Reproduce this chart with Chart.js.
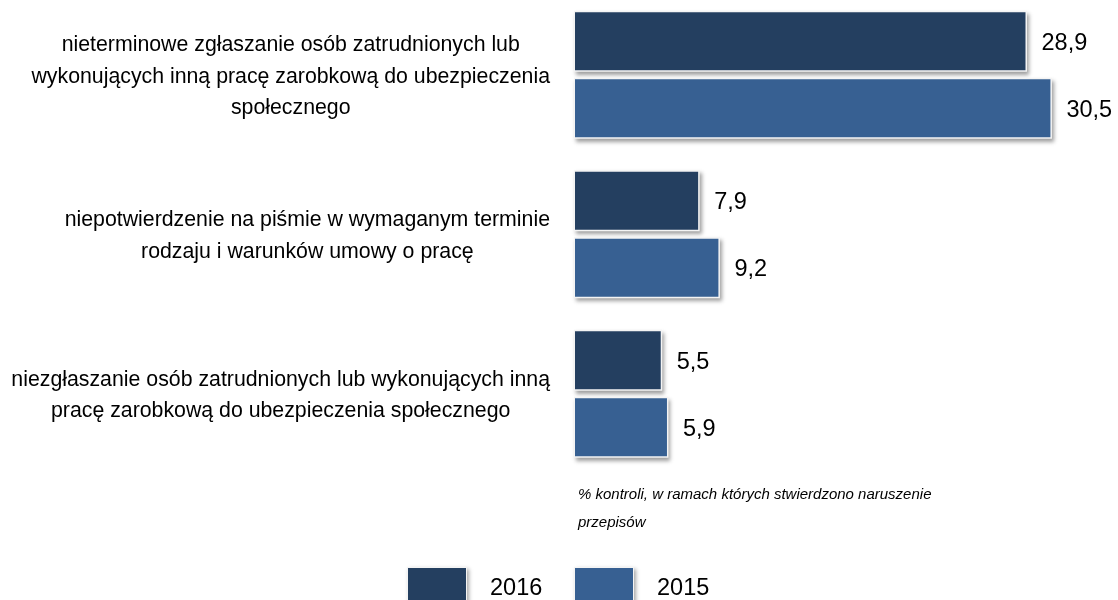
<!DOCTYPE html>
<html>
<head>
<meta charset="utf-8">
<script src="https://cdn.jsdelivr.net/npm/chart.js@4.4.1/dist/chart.umd.min.js"></script>
<style>
  html, body { margin: 0; padding: 0; background: #fff; overflow: hidden; }
  .wrap { width: 1118px; height: 610px; margin-top: -5px; position: relative; }
</style>
</head>
<body>
<div class="wrap"><canvas id="chart"></canvas></div>
<script>
// categories (each entry = wrapped lines of the label)
const categories = [
  ['nieterminowe zgłaszanie osób zatrudnionych lub', 'wykonujących inną pracę zarobkową do ubezpieczenia', 'społecznego'],
  ['niepotwierdzenie na piśmie w wymaganym terminie', 'rodzaju i warunków umowy o pracę'],
  ['niezgłaszanie osób zatrudnionych lub wykonujących inną', 'pracę zarobkową do ubezpieczenia społecznego']
];
const years = ['2016', '2015'];
const values2016 = [28.9, 7.9, 5.5];
const values2015 = [30.5, 9.2, 5.9];
const note = ['% kontroli, w ramach których stwierdzono naruszenie', 'przepisów'];

const COLORS = ['#243f60', '#376092'];
const FONT = '"Liberation Sans", Arial, Helvetica, sans-serif';

// white outline + soft shadow behind each bar
const barShadow = {
  id: 'barShadow',
  beforeDatasetsDraw(chart) {
    const ctx = chart.ctx;
    ctx.save();
    ctx.shadowColor = 'rgba(0,0,0,0.38)';
    ctx.shadowBlur = 4;
    ctx.shadowOffsetX = 2;
    ctx.shadowOffsetY = 3;
    ctx.fillStyle = '#f4f4f4';
    chart.data.datasets.forEach((ds, i) => {
      chart.getDatasetMeta(i).data.forEach(bar => {
        const p = bar.getProps(['x', 'y', 'base', 'height'], true);
        ctx.fillRect(p.base - 1, p.y - p.height / 2 - 1.5, p.x - p.base + 2.5, p.height + 3);
      });
    });
    ctx.restore();
  }
};

// category labels, value labels, note and legend
const textLayer = {
  id: 'textLayer',
  afterDraw(chart) {
    const ctx = chart.ctx;
    const y = chart.scales.y;
    ctx.save();
    ctx.fillStyle = '#000';
    ctx.textBaseline = 'middle';

    // category labels: block right-aligned, lines centered
    ctx.font = '21.3px ' + FONT;
    const right = 550;
    const lineH = 31.5;
    categories.forEach((lines, i) => {
      const cy = y.getPixelForValue(i) + 2;
      const widest = Math.max(...lines.map(l => ctx.measureText(l).width));
      const cx = right - widest / 2;
      ctx.textAlign = 'center';
      lines.forEach((l, k) => {
        ctx.fillText(l, cx, cy + (k - (lines.length - 1) / 2) * lineH);
      });
    });

    // value labels
    ctx.font = '23.5px ' + FONT;
    ctx.textAlign = 'left';
    chart.data.datasets.forEach((ds, i) => {
      chart.getDatasetMeta(i).data.forEach((bar, j) => {
        const txt = ds.data[j].toFixed(1).replace('.', ',');
        ctx.fillText(txt, bar.x + 16, bar.y + 2);
      });
    });

    // note under the bars
    ctx.font = 'italic 15px ' + FONT;
    ctx.fillText(note[0], 578, 500);
    ctx.fillText(note[1], 578, 528);

    // legend
    const legendX = [408, 575];
    ctx.font = '23.5px ' + FONT;
    years.forEach((yr, i) => {
      const bx = legendX[i];
      ctx.save();
      ctx.shadowColor = 'rgba(0,0,0,0.35)';
      ctx.shadowBlur = 4;
      ctx.shadowOffsetX = 2;
      ctx.shadowOffsetY = 2;
      ctx.fillStyle = '#f4f4f4';
      ctx.fillRect(bx - 1, 572, 60, 42);
      ctx.restore();
      ctx.fillStyle = COLORS[i];
      ctx.fillRect(bx, 573, 58, 40);
      ctx.fillStyle = '#000';
      ctx.fillText(yr, bx + 82, 594);
    });
    ctx.restore();
  }
};

new Chart(document.getElementById('chart'), {
  type: 'bar',
  data: {
    labels: categories,
    datasets: [
      { label: years[0], data: values2016, backgroundColor: COLORS[0] },
      { label: years[1], data: values2015, backgroundColor: COLORS[1] }
    ]
  },
  options: {
    indexAxis: 'y',
    responsive: true,
    maintainAspectRatio: false,
    animation: false,
    categoryPercentage: 0.84,
    barPercentage: 0.866,
    layout: { padding: { left: 575, right: 13, top: 0, bottom: 131.5 } },
    plugins: {
      legend: { display: false },
      tooltip: { enabled: false }
    },
    scales: {
      x: { display: false, min: 0, max: 34 },
      y: { display: false }
    }
  },
  plugins: [barShadow, textLayer]
});
</script>
</body>
</html>
